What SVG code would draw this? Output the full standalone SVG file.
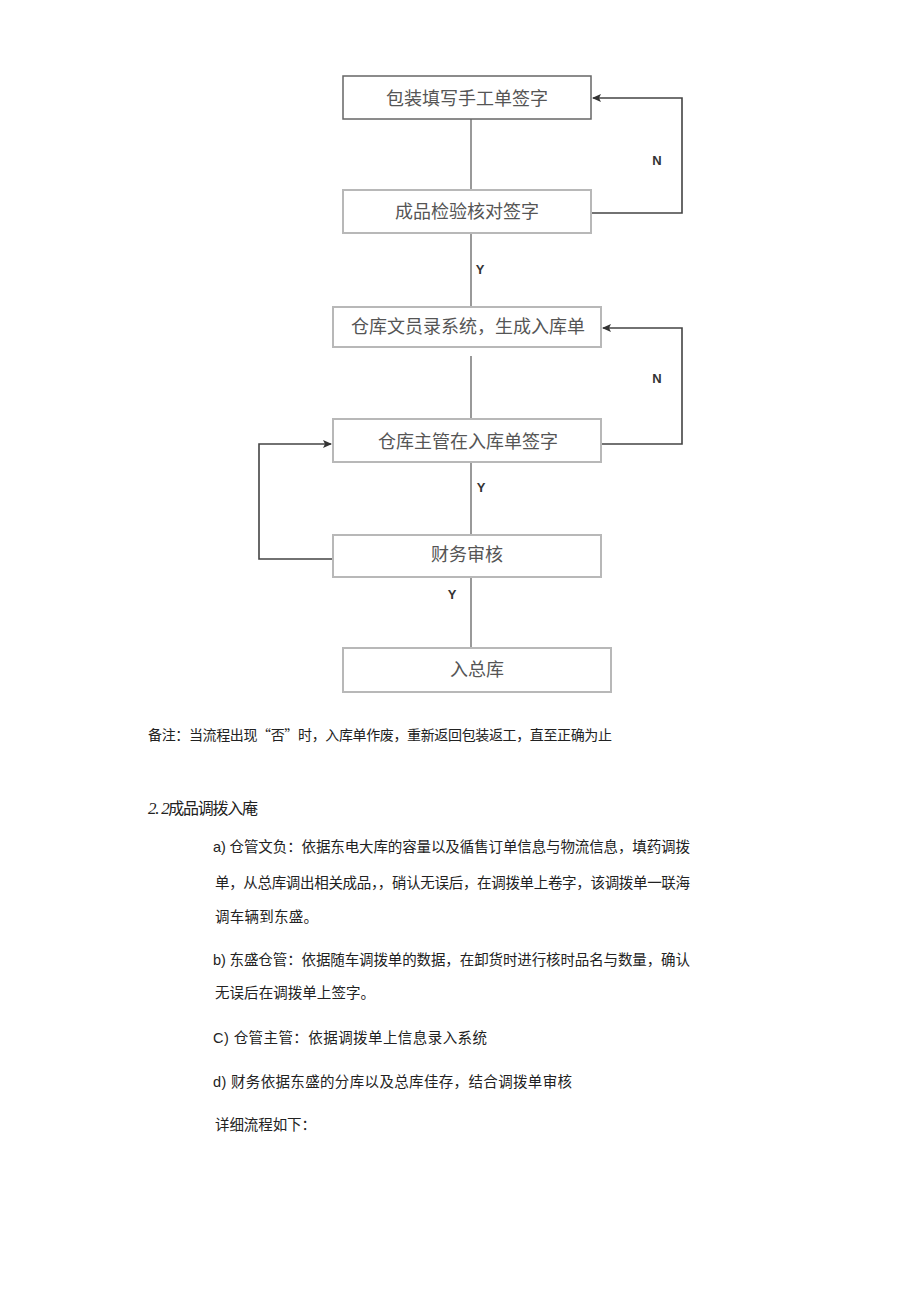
<svg xmlns="http://www.w3.org/2000/svg" width="920" height="1301" viewBox="0 0 920 1301">
<style>
.box{fill:#fff;stroke:#b8b8b8;stroke-width:2}
.bt{font-family:"Noto Sans CJK SC","Liberation Serif",serif;font-size:18px;fill:#555;text-anchor:middle;dominant-baseline:central}
.v{stroke:#999;stroke-width:2;fill:none}
.loop{stroke:#444;stroke-width:1.6;fill:none}
.lab{font-family:"Liberation Sans",Arial,sans-serif;font-weight:bold;font-size:13px;fill:#333;text-anchor:middle;dominant-baseline:central}
.p{font-family:"Liberation Sans","Noto Sans CJK SC",sans-serif;font-size:14.5px;fill:#222}
.n{font-family:"Noto Sans CJK SC",sans-serif;font-size:14px;fill:#222}
</style>
<defs>
<marker id="ah" markerWidth="10" markerHeight="10" refX="8" refY="5" orient="auto" markerUnits="userSpaceOnUse">
<path d="M0,1 L9,5 L0,9 L2,5 Z" fill="#333"/>
</marker>
</defs>
<rect width="920" height="1301" fill="#fff"/>
<g id="connectors">
<line class="v" x1="471" y1="119" x2="471" y2="190"/>
<line class="v" x1="471" y1="233" x2="471" y2="307"/>
<line class="v" x1="471" y1="356" x2="471" y2="419"/>
<line class="v" x1="471" y1="462" x2="471" y2="535"/>
<line class="v" x1="471" y1="577" x2="471" y2="648"/>
<polyline class="loop" points="591,213 682,213 682,98 593,98" marker-end="url(#ah)"/>
<polyline class="loop" points="601,444 682,444 682,328 603,328" marker-end="url(#ah)"/>
<polyline class="loop" points="333,559 259,559 259,444 331,444" marker-end="url(#ah)"/>
<text class="lab" x="657" y="160">N</text>
<text class="lab" x="480" y="269">Y</text>
<text class="lab" x="657" y="378">N</text>
<text class="lab" x="481" y="487">Y</text>
<text class="lab" x="452" y="594">Y</text>
</g>
<g id="n1"><rect x="343" y="76" width="248" height="43" class="box" style="stroke:#666;stroke-width:1.5"/><text class="bt" x="467" y="97">包装填写手工单签字</text></g>
<g id="n2"><rect x="343" y="190" width="248" height="43" class="box"/><text class="bt" x="467" y="210">成品检验核对签字</text></g>
<g id="n3"><rect x="333" y="307" width="268" height="40" class="box"/><text class="bt" x="468" y="325">仓库文员录系统，生成入库单</text></g>
<g id="n4"><rect x="333" y="419" width="268" height="43" class="box"/><text class="bt" x="468" y="440">仓库主管在入库单签字</text></g>
<g id="n5"><rect x="333" y="535" width="268" height="42" class="box"/><text class="bt" x="467" y="553">财务审核</text></g>
<g id="n6"><rect x="343" y="648" width="268" height="44" class="box"/><text class="bt" x="477" y="668">入总库</text></g>
<g id="text">
<text class="n" x="148" y="740" textLength="464" lengthAdjust="spacing">备注：当流程出现“否”时，入库单作废，重新返回包装返工，直至正确为止</text>
<text x="148" y="814" font-size="17" fill="#222" textLength="110" lengthAdjust="spacing"><tspan font-family="Liberation Serif,serif" font-style="italic">2. 2</tspan><tspan font-family="Noto Sans CJK SC,sans-serif" font-size="16">成品调拨入庵</tspan></text>
<text class="p" x="213" y="852" textLength="477" lengthAdjust="spacing">a) 仓管文负：依据东电大库的容量以及循售订单信息与物流信息，填药调拨</text>
<text class="p" x="215" y="888" textLength="475" lengthAdjust="spacing">单，从总库调出相关成品，，硝认无误后，在调拨单上卷字，该调拨单一联海</text>
<text class="p" x="215" y="922" textLength="103" lengthAdjust="spacing">调车辆到东盛。</text>
<text class="p" x="213" y="965" textLength="477" lengthAdjust="spacing">b) 东盛仓管：依据随车调拨单的数据，在卸货时进行核时品名与数量，确认</text>
<text class="p" x="215" y="998" textLength="160" lengthAdjust="spacing">无误后在调拨单上签字。</text>
<text class="p" x="213" y="1043" textLength="274" lengthAdjust="spacing">C) 仓管主管：依据调拨单上信息录入系统</text>
<text class="p" x="213" y="1087" textLength="359" lengthAdjust="spacing">d) 财务依据东盛的分库以及总库佳存，结合调拨单审核</text>
<text class="p" x="215" y="1130" textLength="101" lengthAdjust="spacing">详细流程如下：</text>
</g>
</svg>
